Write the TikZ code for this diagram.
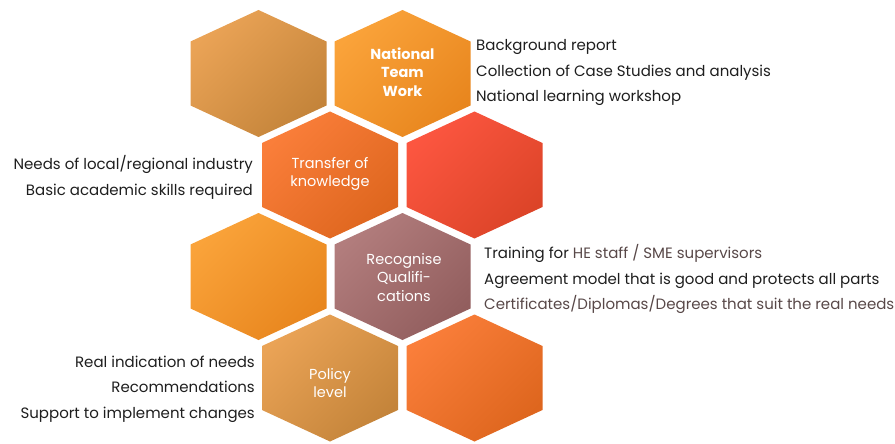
\documentclass[tikz,border=0pt]{standalone}
\usepackage{fontspec}
\setmainfont{Poppins}
\usepackage{tikz}

\definecolor{tanlight}{RGB}{234,163,86}
\definecolor{tandark}{RGB}{196,132,58}
\definecolor{amberlight}{RGB}{250,163,58}
\definecolor{amberdark}{RGB}{232,134,30}
\definecolor{corallight}{RGB}{250,126,58}
\definecolor{coraldark}{RGB}{222,102,30}
\definecolor{redlight}{RGB}{252,86,64}
\definecolor{reddark}{RGB}{220,68,40}
\definecolor{mauvelight}{RGB}{178,125,125}
\definecolor{mauvedark}{RGB}{146,94,94}
\definecolor{itemblack}{RGB}{30,30,30}
\definecolor{itemgrey}{RGB}{88,72,72}

\begin{document}
\begin{tikzpicture}[x=1pt,y=-1pt]

\tikzset{hexagon/.style 2 args={
    top color=#1, bottom color=#2,
    shading angle=45, draw=none
  },
  hex label/.style={
    text=white, align=center, inner sep=0pt,
    font=\fontsize{14.5}{18.5}\selectfont
  },
  item list/.style={
    text=itemblack, inner sep=0pt,
    font=\fontsize{15}{25.7}\selectfont
  }
}

\useasboundingbox (0,0) rectangle (895,444);

\foreach \cx/\cy/\light/\dark in {
    258.5/73.5/tanlight/tandark, 402.5/73.5/amberlight/amberdark,
    330/175/corallight/coraldark, 474.5/175/redlight/reddark,
    258.5/276.5/amberlight/amberdark, 402.5/276.5/mauvelight/mauvedark,
    330/378/tanlight/tandark, 474.5/378/corallight/coraldark}
  \shade[hexagon={\light}{\dark}] (\cx,\cy-63.5) -- ++(68,31.5) -- ++(0,64)
    -- ++(-68,31.5) -- ++(-68,-31.5) -- ++(0,-64) -- cycle;

\node[hex label, font=\fontsize{14.5}{18.5}\selectfont\bfseries] (national) at (402.5,72)
  {National\\Team\\Work};
\node[hex label] (transfer) at (330,174) {Transfer of\\knowledge};
\node[hex label] (recognise) at (404,277.5) {Recognise\\Qualifi-\\cations};
\node[hex label] (policy) at (330,383) {Policy\\level};

\node[item list, anchor=west, align=left] (team list) at (476,72.5)
  {Background report\\Collection of Case Studies and analysis\\National learning workshop};
\node[item list, anchor=east, align=right] (transfer list) at (253,177.5)
  {Needs of local/regional industry\\Basic academic skills required};
\node[item list, anchor=west, align=left] (recognise list) at (484,279)
  {Training for \textcolor{itemgrey}{HE staff / SME supervisors}\\
   Agreement model that is good and protects all parts\\
   \textcolor{itemgrey}{Certificates/Diplomas/Degrees that suit the real needs}};
\node[item list, anchor=east, align=right] (policy list) at (255,389)
  {Real indication of needs\\Recommendations\\Support to implement changes};

\end{tikzpicture}
\end{document}
